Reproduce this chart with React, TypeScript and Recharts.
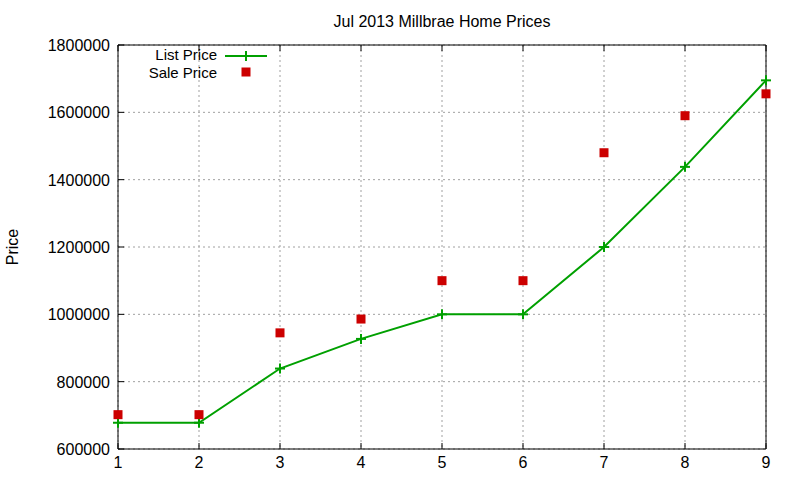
import React from 'react';
import { ComposedChart, Line, XAxis, YAxis, CartesianGrid, Legend } from 'recharts';

const months = [1, 2, 3, 4, 5, 6, 7, 8, 9];
const listPrice = [678000, 678000, 839000, 927000, 1000000, 1000000, 1200000, 1438000, 1695000];
const salePrice = [702000, 702000, 945000, 986000, 1100000, 1100000, 1480000, 1590000, 1655000];
const yTicks = [600000, 800000, 1000000, 1200000, 1400000, 1600000, 1800000];
const seriesNames = ['List Price', 'Sale Price'];
const title = 'Jul 2013 Millbrae Home Prices';
const yLabel = 'Price';

const GREEN = '#00a000';
const RED = '#cc0000';
const FONT = '"Liberation Sans", Arial, Helvetica, sans-serif';

const data = months.map((m, i) => ({ m, list: listPrice[i], sale: salePrice[i] }));

const TICK = 6;

const LeftTick = (props: any) => {
  const { x, y, payload } = props;
  return (
    <g>
      <line x1={x} y1={y} x2={x + TICK} y2={y} stroke="#000" strokeWidth={1} />
      <text x={x - 8} y={y} dy={6} textAnchor="end" fontSize={16} fill="#000" fontFamily={FONT}>
        {String(payload.value)}
      </text>
    </g>
  );
};

const RightTick = (props: any) => {
  const { x, y } = props;
  return <line x1={x} y1={y} x2={x - TICK} y2={y} stroke="#000" strokeWidth={1} />;
};

const BottomTick = (props: any) => {
  const { x, y, payload } = props;
  return (
    <g>
      <line x1={x} y1={y} x2={x} y2={y - TICK} stroke="#000" strokeWidth={1} />
      <text x={x} y={y} dy={19} textAnchor="middle" fontSize={16} fill="#000" fontFamily={FONT}>
        {String(payload.value)}
      </text>
    </g>
  );
};

const TopTick = (props: any) => {
  const { x, y } = props;
  return <line x1={x} y1={y} x2={x} y2={y + TICK} stroke="#000" strokeWidth={1} />;
};

const PlusDot = (props: any) => {
  const { cx, cy } = props;
  if (cx == null || cy == null) return null;
  return (
    <g>
      <line x1={cx - 5} y1={cy} x2={cx + 5} y2={cy} stroke={GREEN} strokeWidth={2} />
      <line x1={cx} y1={cy - 5} x2={cx} y2={cy + 5} stroke={GREEN} strokeWidth={2} />
    </g>
  );
};

const SquareDot = (props: any) => {
  const { cx, cy } = props;
  if (cx == null || cy == null) return null;
  return <rect x={cx - 4.5} y={cy - 4.5} width={9} height={9} fill={RED} />;
};

const LegendContent = () => (
  <svg width={140} height={44} style={{ display: 'block' }}>
    <text x={77} y={15} textAnchor="end" fontSize={15} fill="#000" fontFamily={FONT}>{seriesNames[0]}</text>
    <line x1={85} y1={11} x2={127} y2={11} stroke={GREEN} strokeWidth={2} />
    <line x1={101} y1={11} x2={111} y2={11} stroke={GREEN} strokeWidth={2} />
    <line x1={106} y1={6} x2={106} y2={16} stroke={GREEN} strokeWidth={2} />
    <text x={77} y={33} textAnchor="end" fontSize={15} fill="#000" fontFamily={FONT}>{seriesNames[1]}</text>
    <rect x={101.5} y={22.5} width={9} height={9} fill={RED} />
  </svg>
);

export default function App() {
  return (
    <div style={{ position: 'absolute', left: 0, top: 0, width: 800, height: 480, background: '#fff', fontFamily: FONT }}>
      <ComposedChart width={800} height={480} data={data} margin={{ top: 0, right: 0, bottom: 0, left: 0 }}>
        <CartesianGrid xAxisId="bottom" yAxisId="left" stroke="#a0a0a0" strokeDasharray="2 3" strokeWidth={1} />
        <XAxis
          xAxisId="bottom"
          dataKey="m"
          type="number"
          domain={[1, 9]}
          ticks={months}
          orientation="bottom"
          height={31}
          tickSize={0}
          tickMargin={0}
          tickLine={false}
          axisLine={{ stroke: '#000', strokeWidth: 1 }}
          tick={<BottomTick />}
          interval={0}
        />
        <XAxis
          xAxisId="top"
          dataKey="m"
          type="number"
          domain={[1, 9]}
          ticks={months}
          orientation="top"
          height={45}
          tickSize={0}
          tickMargin={0}
          tickLine={false}
          axisLine={{ stroke: '#000', strokeWidth: 1 }}
          tick={<TopTick />}
          interval={0}
        />
        <YAxis
          yAxisId="left"
          type="number"
          domain={[600000, 1800000]}
          ticks={yTicks}
          orientation="left"
          width={118}
          tickSize={0}
          tickMargin={0}
          tickLine={false}
          axisLine={{ stroke: '#000', strokeWidth: 1 }}
          tick={<LeftTick />}
          interval={0}
        />
        <YAxis
          yAxisId="right"
          type="number"
          domain={[600000, 1800000]}
          ticks={yTicks}
          orientation="right"
          width={34}
          tickSize={0}
          tickMargin={0}
          tickLine={false}
          axisLine={{ stroke: '#000', strokeWidth: 1 }}
          tick={<RightTick />}
          interval={0}
        />
        <Legend
          layout="vertical"
          align="center"
          verticalAlign="middle"
          content={<LegendContent />}
          wrapperStyle={{ position: 'absolute', left: 140, top: 45, width: 140, height: 44 }}
        />
        <Line
          xAxisId="bottom"
          yAxisId="left"
          type="linear"
          dataKey="list"
          name={seriesNames[0]}
          stroke={GREEN}
          strokeWidth={2}
          dot={<PlusDot />}
          activeDot={false}
          isAnimationActive={false}
        />
        <Line
          xAxisId="bottom"
          yAxisId="left"
          type="linear"
          dataKey="sale"
          name={seriesNames[1]}
          stroke="none"
          strokeWidth={0}
          dot={<SquareDot />}
          activeDot={false}
          isAnimationActive={false}
        />
      </ComposedChart>
      <svg width={800} height={480} style={{ position: 'absolute', left: 0, top: 0, pointerEvents: 'none' }}>
        <text x={442} y={27} textAnchor="middle" fontSize={16} fill="#000" fontFamily={FONT}>{title}</text>
        <text x={18} y={247} textAnchor="middle" fontSize={16} fill="#000" fontFamily={FONT} transform="rotate(-90, 18, 247)">{yLabel}</text>
      </svg>
    </div>
  );
}
